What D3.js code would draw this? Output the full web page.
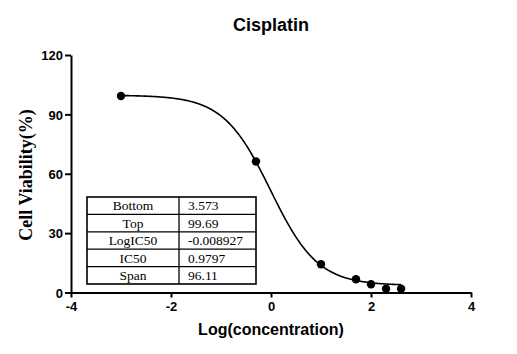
<!DOCTYPE html>
<html>
<head>
<meta charset="utf-8">
<script src="https://cdn.jsdelivr.net/npm/d3@7"></script>
<style>
  body { margin: 0; background: #fff; }
</style>
</head>
<body>
<div class="container"></div>
<script>
// data
let logConc = [-3, -0.301, 1, 1.699, 2, 2.301, 2.602]
let viability = [99.3, 66.2, 14.3, 6.7, 4.2, 1.9, 1.9]
let xTicks = [-4, -2, 0, 2, 4]
let yTicks = [0, 30, 60, 90, 120]
let fitNames = ['Bottom', 'Top', 'LogIC50', 'IC50', 'Span']
let fitValues = ['3.573', '99.69', '-0.008927', '0.9797', '96.11']
let fitBottom = 3.573, fitTop = 99.69, logIC50 = -0.008927, hill = -0.92

let svg = d3.select('.container')
    .append('svg')
    .attr('width', 517)
    .attr('height', 354)

let x = d3.scaleLinear().domain([-4, 4]).range([71, 471])
let y = d3.scaleLinear().domain([0, 120]).range([292.5, 55])

// axes (plain hyphen for negatives, like the original)
let xAxis = svg.append('g')
    .attr('transform', 'translate(0,292.5)')
    .call(d3.axisBottom(x).tickValues(xTicks).tickFormat((d) => String(d))
        .tickSize(5).tickPadding(4).tickSizeOuter(0))
let yAxis = svg.append('g')
    .attr('transform', 'translate(71,0)')
    .call(d3.axisLeft(y).tickValues(yTicks).tickFormat((d) => String(d))
        .tickSize(6).tickPadding(2).tickSizeOuter(0))

svg.selectAll('.domain, .tick line')
    .attr('stroke', '#000')
    .attr('stroke-width', 2)
svg.selectAll('.tick text')
    .style('font-family', 'Liberation Sans, Arial, sans-serif')
    .style('font-weight', 'bold')
    .style('font-size', '13px')
    .attr('fill', '#000')
yAxis.selectAll('.tick text').attr('dy', '0.36em')

// fitted curve
let curveX = d3.range(-3, 2.61, 0.02)
let fit = (v) => fitBottom + (fitTop - fitBottom) / (1 + Math.pow(10, (logIC50 - v) * hill))
let line = d3.line()
    .x((d) => x(d))
    .y((d) => y(fit(d)))
svg.append('path')
    .attr('d', line(curveX))
    .attr('fill', 'none')
    .attr('stroke', '#000')
    .attr('stroke-width', 1.6)

svg.selectAll('circle')
    .data(logConc)
    .enter().append('circle')
    .attr('cx', (d) => x(d))
    .attr('cy', (d, i) => y(viability[i]))
    .attr('r', 4.2)
    .attr('fill', '#000')

// results table
let tx = 87, ty = 197, colX = 179, tw = 169, rowH = 17.4
let table = svg.append('g')
table.append('rect')
    .attr('x', tx).attr('y', ty)
    .attr('width', tw).attr('height', rowH * fitNames.length)
    .attr('fill', '#fff')
    .attr('stroke', '#000')
    .attr('stroke-width', 1.6)
table.append('line')
    .attr('x1', colX).attr('x2', colX)
    .attr('y1', ty).attr('y2', ty + rowH * fitNames.length)
    .attr('stroke', '#000').attr('stroke-width', 1.3)
fitNames.forEach(function(name, i) {
    if (i > 0) {
        table.append('line')
            .attr('x1', tx).attr('x2', tx + tw)
            .attr('y1', ty + rowH * i).attr('y2', ty + rowH * i)
            .attr('stroke', '#000').attr('stroke-width', 1.3)
    }
    table.append('text')
        .attr('x', (tx + colX) / 2)
        .attr('y', ty + rowH * i + rowH / 2)
        .attr('dy', '0.35em')
        .attr('text-anchor', 'middle')
        .style('font-family', 'Liberation Serif, Times New Roman, serif')
        .style('font-size', '13.5px')
        .text(name)
    table.append('text')
        .attr('x', colX + 9)
        .attr('y', ty + rowH * i + rowH / 2)
        .attr('dy', '0.35em')
        .style('font-family', 'Liberation Serif, Times New Roman, serif')
        .style('font-size', '13.5px')
        .text(fitValues[i])
})

// titles
svg.append('text')
    .attr('x', 271).attr('y', 31)
    .attr('text-anchor', 'middle')
    .style('font-family', 'Liberation Sans, Arial, sans-serif')
    .style('font-weight', 'bold')
    .style('font-size', '18px')
    .text('Cisplatin')
svg.append('text')
    .attr('x', 271).attr('y', 335)
    .attr('text-anchor', 'middle')
    .style('font-family', 'Liberation Sans, Arial, sans-serif')
    .style('font-weight', 'bold')
    .style('font-size', '16px')
    .text('Log(concentration)')
svg.append('text')
    .attr('transform', 'translate(32,175) rotate(-90)')
    .attr('text-anchor', 'middle')
    .style('font-family', 'Liberation Serif, Times New Roman, serif')
    .style('font-weight', 'bold')
    .style('font-size', '18px')
    .text('Cell Viability(%)')
</script>
</body>
</html>
